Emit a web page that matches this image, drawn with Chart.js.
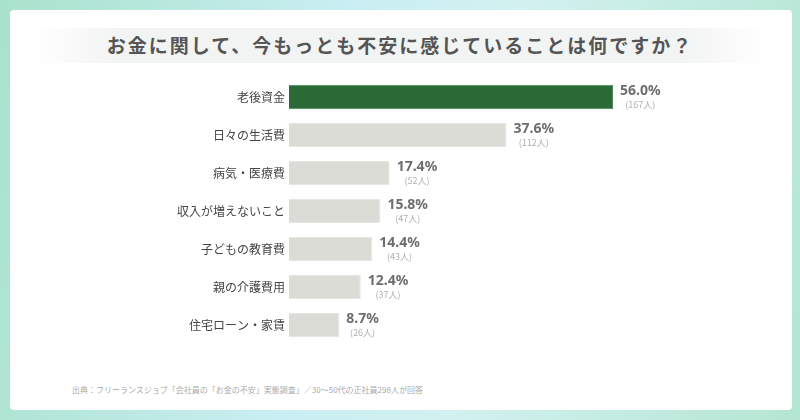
<!DOCTYPE html>
<html lang="ja">
<head>
<meta charset="utf-8">
<script src="https://cdn.jsdelivr.net/npm/chart.js@4.4.1/dist/chart.umd.min.js"></script>
<style>
  html, body { margin: 0; padding: 0; }
  body {
    width: 800px; height: 420px; overflow: hidden; position: relative;
    background: linear-gradient(100deg, #a9e2cb 0%, #c9eef3 40%, #d2f1f0 60%, #b4e6d2 100%);
    font-family: "Noto Sans CJK JP", "Noto Sans", sans-serif;
  }
  .card {
    position: absolute; left: 10px; top: 10px; width: 782px; height: 400px;
    background: #fff; border-radius: 4px;
  }
  .title-band {
    position: absolute; left: 30px; top: 28px; width: 740px; height: 35px;
    background: linear-gradient(90deg, rgba(240,243,242,0) 0%, #f2f4f3 12%, #f2f4f3 88%, rgba(240,243,242,0) 100%);
  }
  .title {
    position: absolute; left: 0; top: 32px; width: 800px; text-align: center;
    font-size: 19px; font-weight: bold; color: #555; letter-spacing: 2px; line-height: 26px;
  }
  .source {
    position: absolute; left: 72px; top: 384px;
    font-size: 8px; color: #aaa; line-height: 12px;
  }
  #chart { position: absolute; left: 0; top: 0; }
</style>
</head>
<body>
<div class="card"></div>
<div class="title-band"></div>
<div class="title">お金に関して、今もっとも不安に感じていることは何ですか？</div>
<div class="source">出典：フリーランスジョブ「会社員の「お金の不安」実態調査」／30〜50代の正社員298人が回答</div>
<canvas id="chart" width="800" height="420"></canvas>
<script>
//============================================= Data =============================================//
const categories = ['老後資金', '日々の生活費', '病気・医療費', '収入が増えないこと', '子どもの教育費', '親の介護費用', '住宅ローン・家賃'];
const percents = [56.0, 37.6, 17.4, 15.8, 14.4, 12.4, 8.7];
const counts = [167, 112, 52, 47, 43, 37, 26];

const barColors = categories.map((c, i) => i === 0 ? '#2b6a36' : '#dcdcd7');
const borderColors = categories.map((c, i) => i === 0 ? '#4f8a5a' : '#e6e6e2');

//============================================= Value labels =============================================//
const valueLabels = {
    id: 'valueLabels',
    afterDatasetsDraw(chart) {
        const { ctx } = chart;
        const meta = chart.getDatasetMeta(0);
        ctx.save();
        meta.data.forEach((bar, i) => {
            const pctText = percents[i].toFixed(1) + '%';
            ctx.font = 'bold 14px "Noto Sans", "Noto Sans CJK JP", sans-serif';
            ctx.fillStyle = '#6e6e6e';
            ctx.textAlign = 'left';
            ctx.textBaseline = 'middle';
            const x = bar.x + 7;
            ctx.fillText(pctText, x, bar.y - 5.5);
            const w = ctx.measureText(pctText).width;

            ctx.font = '9px "Noto Sans CJK JP", sans-serif';
            ctx.fillStyle = '#b0b0b0';
            ctx.textAlign = 'center';
            ctx.fillText('(' + counts[i] + '人)', x + w / 2, bar.y + 7.5);
        });
        ctx.restore();
    }
};

//============================================= Bar chart =============================================//
new Chart(document.getElementById('chart'), {
    type: 'bar',
    data: {
        labels: categories,
        datasets: [{
            data: percents,
            backgroundColor: barColors,
            borderColor: borderColors,
            borderWidth: 1,
            categoryPercentage: 1,
            barPercentage: 0.64
        }]
    },
    options: {
        indexAxis: 'y',
        responsive: false,
        animation: false,
        layout: {
            padding: { left: 0, right: 106, top: 78, bottom: 76 }
        },
        plugins: {
            legend: { display: false },
            tooltip: { enabled: false }
        },
        scales: {
            x: {
                display: false,
                min: 0,
                max: 70
            },
            y: {
                border: { display: false },
                grid: { display: false, drawTicks: false },
                afterFit(scale) { scale.width = 289; },
                ticks: {
                    padding: 4,
                    color: '#444',
                    font: { family: '"Noto Sans CJK JP", sans-serif', size: 12 }
                }
            }
        }
    },
    plugins: [valueLabels]
});
</script>
</body>
</html>
